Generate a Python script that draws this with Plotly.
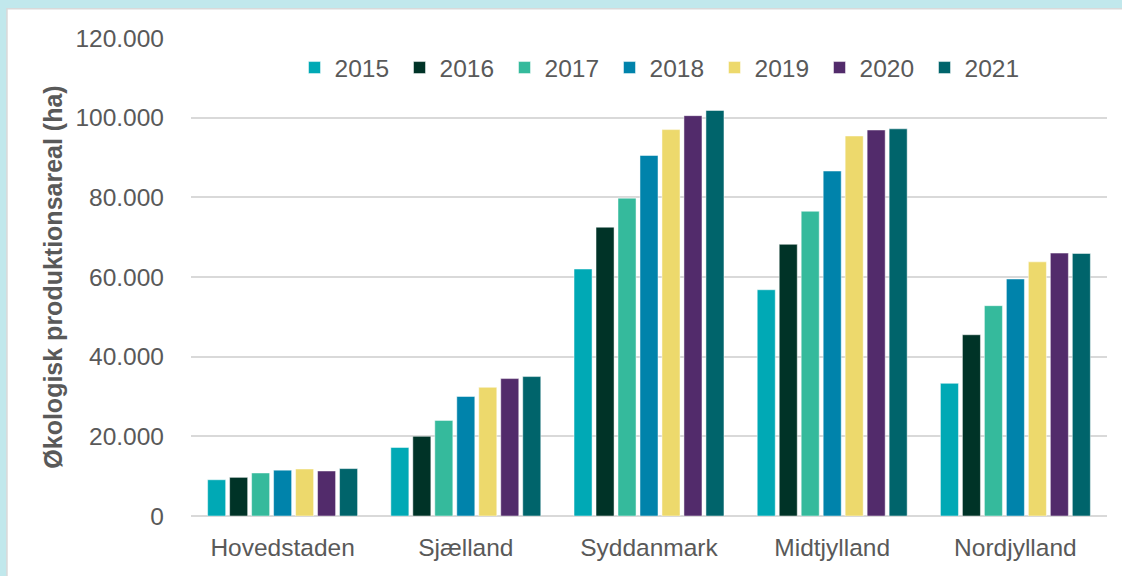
import plotly.graph_objects as go

regions = ["Hovedstaden", "Sjælland", "Syddanmark", "Midtjylland", "Nordjylland"]
years = ["2015", "2016", "2017", "2018", "2019", "2020", "2021"]

# hectares per region, one list per year
areal = {
    "2015": [9100, 17200, 62000, 56800, 33300],
    "2016": [9700, 20000, 72500, 68200, 45500],
    "2017": [10800, 24000, 79800, 76500, 52800],
    "2018": [11500, 30000, 90500, 86600, 59500],
    "2019": [11800, 32300, 97000, 95400, 63800],
    "2020": [11300, 34500, 100500, 96900, 66000],
    "2021": [11900, 35000, 101800, 97200, 65900],
}

y_ticks = [0, 20000, 40000, 60000, 80000, 100000, 120000]

COLORS = ["#00A9B5", "#003327", "#35BA9C", "#0083AB", "#EDD96C", "#522B6B", "#00646B"]
FONT = "Arial, Liberation Sans, sans-serif"
GREY = "#595959"

fig = go.Figure()
for i, yr in enumerate(years):
    fig.add_trace(go.Bar(
        x=regions,
        y=areal[yr],
        name=yr,
        marker=dict(color=COLORS[i], line=dict(color="rgba(255,255,255,0.6)", width=0.8)),
    ))

fig.update_layout(
    width=1122,
    height=576,
    margin=dict(l=191, r=15, t=38, b=60),
    paper_bgcolor="#C1E8EC",
    plot_bgcolor="rgba(0,0,0,0)",
    separators=",.",
    barmode="group",
    bargap=0.16,
    bargroupgap=0.18,
    font=dict(family=FONT, size=24.5, color=GREY),
    legend=dict(
        orientation="h",
        x=0.113, xanchor="left",
        y=0.938, yanchor="middle",
        bgcolor="rgba(0,0,0,0)",
        font=dict(size=24.5, color=GREY),
        traceorder="normal",
        itemwidth=30,
        entrywidth=60,
        entrywidthmode="pixels",
    ),
    shapes=[dict(
        type="rect", xref="paper", yref="paper",
        x0=-0.2009, x1=1.2, y0=-0.3, y1=1.0613,
        fillcolor="white", line=dict(color="#D9D9D9", width=1.5),
        layer="below",
    )],
    yaxis=dict(
        range=[0, 120000],
        tickvals=y_ticks,
        tickformat=",d",
        gridcolor="#D9D9D9",
        gridwidth=1.5,
        zeroline=True,
        zerolinecolor="#D9D9D9",
        zerolinewidth=2,
        showline=False,
        ticks="",
        ticklabelstandoff=26,
        tickfont=dict(size=24.5, color=GREY),
        title=dict(
            text="<b>Økologisk produktionsareal (ha)</b>",
            font=dict(size=25, color=GREY),
            standoff=5,
        ),
    ),
    xaxis=dict(
        showgrid=False,
        showline=False,
        ticks="",
        ticklabelstandoff=14,
        tickfont=dict(size=24.5, color=GREY),
    ),
)

# drop the default page margin so the figure sits at the window's top-left corner
fig.write_html(
    "out.html",
    config={"displayModeBar": False},
    post_script="document.body.style.margin='0';document.body.style.overflow='hidden';",
)
